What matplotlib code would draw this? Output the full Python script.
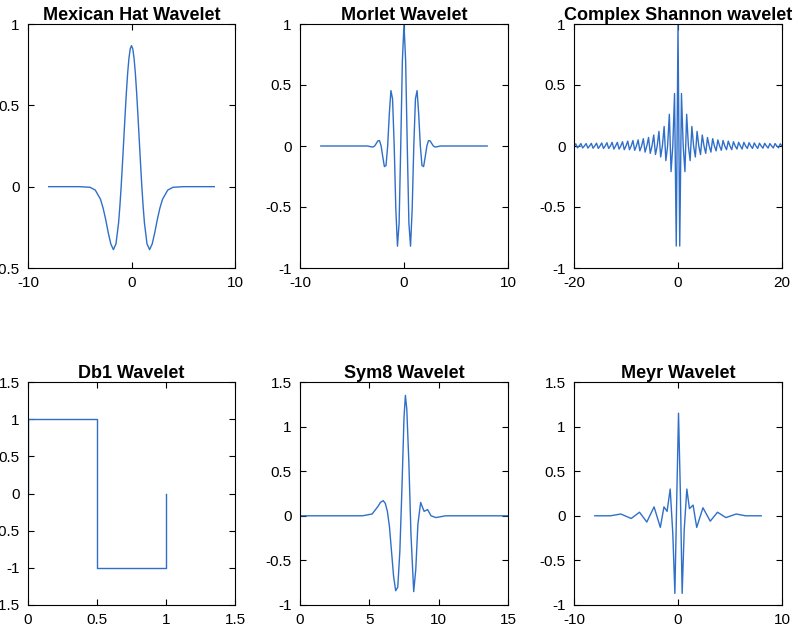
import numpy as np
import matplotlib
matplotlib.use("Agg")
from matplotlib import pyplot as plt

plt.rcParams["font.family"] = ["Liberation Sans", "DejaVu Sans"]
BLUE = "#2f6fc9"

# Mexican hat (right half, mirrored)
mh_t = [0, 0.125, 0.25, 0.375, 0.5, 0.625, 0.75, 0.875, 1.0, 1.125, 1.25, 1.5, 1.75,
        2.0, 2.25, 2.5, 2.75, 3.0, 3.5, 4.0, 5.0, 8.0]
mh_y = [0.867, 0.847, 0.788, 0.695, 0.574, 0.434, 0.286, 0.139, 0.0, -0.122, -0.223,
        -0.352, -0.387, -0.352, -0.282, -0.200, -0.130, -0.077, -0.021, -0.004, 0.0, 0.0]

# Morlet (right half, mirrored)
mo_t = [0, 0.157, 0.314, 0.471, 0.628, 0.785, 0.942, 1.100, 1.257, 1.414, 1.571,
        1.728, 1.885, 2.042, 2.199, 2.356, 2.513, 2.670, 2.827, 2.985, 3.14, 3.5, 8.0]
mo_y = [1.0, 0.698, 0.0, -0.633, -0.821, -0.520, 0.0, 0.386, 0.454, 0.260, 0.0,
        -0.159, -0.169, -0.088, 0.0, 0.044, 0.042, 0.020, 0.0, -0.008, -0.007, 0.0, 0.0]

# Complex Shannon real part: extremum heights at steps of 1/3 from t=0 (right half)
sh_amp = [1.0, -0.82, 0.43, -0.0, -0.21, 0.26, -0.0, -0.12, 0.16, -0.0, -0.09, 0.12,
          -0.0, -0.07, 0.09, -0.0, -0.06, 0.07, -0.0, -0.05, 0.06, -0.0, -0.04, 0.05,
          -0.0, -0.035, 0.045, -0.0, -0.03, 0.04, -0.0, -0.03, 0.035, -0.0, -0.025,
          0.03, -0.0, -0.025, 0.03, -0.0, -0.02, 0.027, -0.0, -0.02, 0.025, -0.0,
          -0.02, 0.023, -0.0, -0.018, 0.022, -0.0, -0.017, 0.02, -0.0, -0.016, 0.02,
          -0.0, -0.015, 0.018, 0.0]

# Haar / db1
db_t = [0, 0, 0.5, 0.5, 1.0, 1.0]
db_y = [0, 1, 1, -1, -1, 0]

# Sym8
sy_t = [0, 4.5, 5.2, 5.6, 5.8, 6.0, 6.15, 6.3, 6.45, 6.6, 6.75, 6.9, 7.05, 7.2, 7.35,
        7.5, 7.6, 7.7, 7.85, 8.0, 8.2, 8.35, 8.5, 8.7, 8.95, 9.2, 9.45, 9.8, 10.5, 15]
sy_y = [0, 0, 0.02, 0.1, 0.15, 0.17, 0.14, 0.05, -0.12, -0.4, -0.68, -0.84, -0.8,
        -0.4, 0.3, 1.1, 1.35, 1.2, 0.6, -0.2, -0.85, -0.6, -0.1, 0.15, 0.05, 0.07,
        0.0, -0.02, 0.0, 0.0]

# Meyer
me_t = [-8, -6.5, -5.5, -4.5, -3.7, -3.0, -2.3, -1.7, -1.35, -1.05, -0.75, -0.5,
        -0.3, -0.12, 0.05, 0.22, 0.4, 0.6, 0.85, 1.1, 1.45, 1.8, 2.4, 3.1, 3.8,
        4.6, 5.6, 6.5, 8]
me_y = [0, 0.0, 0.02, -0.03, 0.04, -0.07, 0.1, -0.13, 0.1, 0.05, 0.3, -0.2,
        -0.87, 0.2, 1.15, 0.3, -0.87, -0.15, 0.3, 0.08, 0.12, -0.13, 0.09, -0.06,
        0.04, -0.02, 0.02, 0.0, 0]


def mirror(t, y):
    t = np.asarray(t, float)
    y = np.asarray(y, float)
    return np.concatenate([-t[:0:-1], t]), np.concatenate([y[:0:-1], y])


fig = plt.figure(figsize=(8, 6.32), dpi=100)
W, H = 800, 632
boxes = [(28, 24, 235, 268), (300, 24, 508, 268), (574, 24, 782, 268),
         (28, 382, 235, 605), (300, 382, 508, 605), (574, 382, 782, 605)]
axes = [fig.add_axes([x0 / W, 1 - y1 / H, (x1 - x0) / W, (y1 - y0) / H])
        for x0, y0, x1, y1 in boxes]

t, y = mirror(mh_t, mh_y)
axes[0].plot(t, y, color=BLUE, lw=1)
axes[0].set(xlim=(-10, 10), ylim=(-0.5, 1), xticks=[-10, 0, 10],
            yticks=[-0.5, 0, 0.5, 1])
axes[0].set_title("Mexican Hat Wavelet")

t, y = mirror(mo_t, mo_y)
axes[1].plot(t, y, color=BLUE, lw=1)
axes[1].set(xlim=(-10, 10), ylim=(-1, 1), xticks=[-10, 0, 10],
            yticks=[-1, -0.5, 0, 0.5, 1])
axes[1].set_title("Morlet Wavelet")

st = np.arange(len(sh_amp)) / 3.0
t, y = mirror(st, sh_amp)
axes[2].plot(t, y, color=BLUE, lw=1)
axes[2].set(xlim=(-20, 20), ylim=(-1, 1), xticks=[-20, 0, 20],
            yticks=[-1, -0.5, 0, 0.5, 1])
axes[2].set_title("Complex Shannon wavelet")

axes[3].plot(db_t, db_y, color=BLUE, lw=1)
axes[3].set(xlim=(0, 1.5), ylim=(-1.5, 1.5), xticks=[0, 0.5, 1, 1.5],
            yticks=[-1.5, -1, -0.5, 0, 0.5, 1, 1.5])
axes[3].set_title("Db1 Wavelet")

axes[4].plot(sy_t, sy_y, color=BLUE, lw=1)
axes[4].set(xlim=(0, 15), ylim=(-1, 1.5), xticks=[0, 5, 10, 15],
            yticks=[-1, -0.5, 0, 0.5, 1, 1.5])
axes[4].set_title("Sym8 Wavelet")

axes[5].plot(me_t, me_y, color=BLUE, lw=1)
axes[5].set(xlim=(-10, 10), ylim=(-1, 1.5), xticks=[-10, 0, 10],
            yticks=[-1, -0.5, 0, 0.5, 1, 1.5])
axes[5].set_title("Meyr Wavelet")

fmt = matplotlib.ticker.FuncFormatter(lambda v, p: f"{v:g}")
for ax in axes:
    ax.title.set_fontweight("bold")
    ax.title.set_fontsize(13)
    ax.title.set_y(1.0)
    ax.set_title(ax.get_title(), fontsize=13, fontweight="bold", pad=3)
    ax.tick_params(direction="in", labelsize=11, top=True, right=True, length=4, pad=6)
    ax.yaxis.set_major_formatter(fmt)
    ax.xaxis.set_major_formatter(fmt)

fig.savefig("out.png", dpi=100)
